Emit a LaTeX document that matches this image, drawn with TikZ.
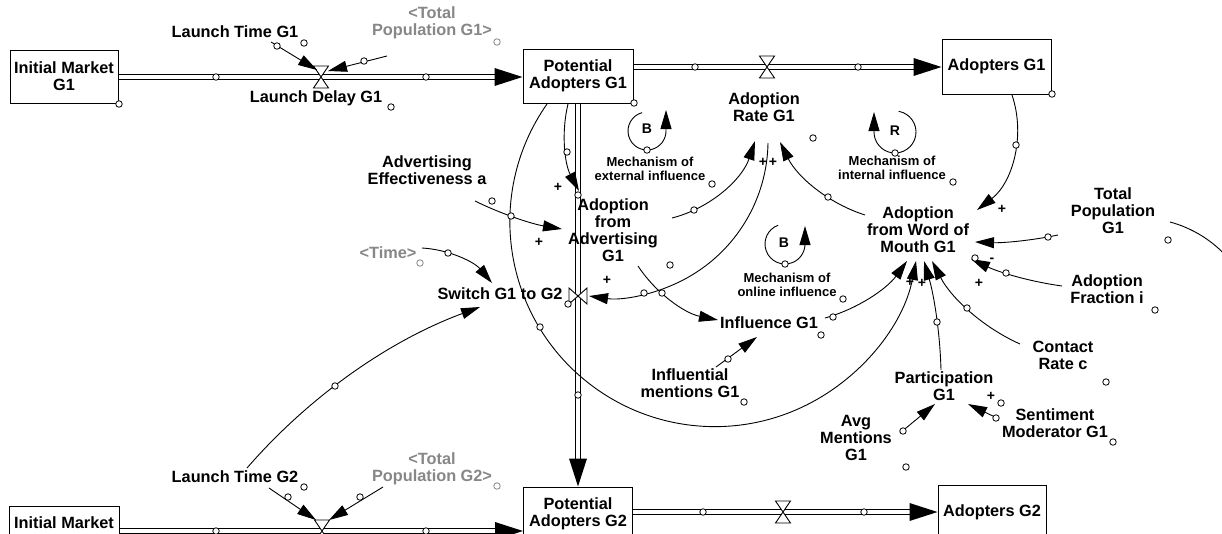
\documentclass[tikz,border=0pt]{standalone}
\usepackage{fontspec}
\setmainfont{Liberation Sans}
\usetikzlibrary{arrows.meta,calc}
\definecolor{vgray}{RGB}{135,135,135}

% Circular arc from #2 through #3 to #4 (named points), drawn with options #1
\newcommand\arcthru[4][]{%
  \path (#2); \pgfgetlastxy{\arcXa}{\arcYa}%
  \path (#3); \pgfgetlastxy{\arcXb}{\arcYb}%
  \path (#4); \pgfgetlastxy{\arcXc}{\arcYc}%
  \pgfmathsetmacro\arcBx{((\arcXb)-(\arcXa))/100}%
  \pgfmathsetmacro\arcBy{((\arcYb)-(\arcYa))/100}%
  \pgfmathsetmacro\arcCx{((\arcXc)-(\arcXa))/100}%
  \pgfmathsetmacro\arcCy{((\arcYc)-(\arcYa))/100}%
  \pgfmathsetmacro\arcD{2*((\arcBx)*(\arcCy)-(\arcBy)*(\arcCx))}%
  \pgfmathsetmacro\arcBB{(\arcBx)*(\arcBx)+(\arcBy)*(\arcBy)}%
  \pgfmathsetmacro\arcCC{(\arcCx)*(\arcCx)+(\arcCy)*(\arcCy)}%
  \pgfmathsetmacro\arcUx{((\arcCy)*(\arcBB)-(\arcBy)*(\arcCC))/(\arcD)}%
  \pgfmathsetmacro\arcUy{((\arcBx)*(\arcCC)-(\arcCx)*(\arcBB))/(\arcD)}%
  \pgfmathsetmacro\arcR{100*veclen(\arcUx,\arcUy)}%
  \pgfmathsetmacro\arcS{atan2(0-(\arcUy),0-(\arcUx))}%
  \pgfmathsetmacro\arcT{atan2((\arcCy)-(\arcUy),(\arcCx)-(\arcUx))}%
  \pgfmathsetmacro\arcE{(\arcD>0) ? ((\arcT<\arcS) ? (\arcT+360) : (\arcT)) : ((\arcT>\arcS) ? (\arcT-360) : (\arcT))}%
  \draw[#1] (#2) arc[start angle=\arcS, end angle=\arcE, radius=\arcR pt];%
}

\tikzset{
  lbl/.style={font=\fontsize{16.3}{17}\selectfont\bfseries, align=center, inner sep=0pt},
  glbl/.style={lbl, text=vgray},
  smalllbl/.style={font=\fontsize{13}{14.5}\selectfont\bfseries, align=center, inner sep=0pt},
  looplbl/.style={font=\fontsize{14}{14}\selectfont\bfseries, inner sep=0pt},
  stock/.style={lbl, draw, line width=1pt, rectangle},
  hdl/.style={circle, draw, fill=white, line width=0.8pt, inner sep=0pt, minimum size=6.5pt},
  ghdl/.style={hdl, draw=vgray},
  link/.style={line width=0.9pt, -{Triangle[length=19pt,width=11pt]}},
  plainlink/.style={line width=0.9pt},
  pipeline/.style={line width=0.9pt},
  valve/.style={draw, fill=white, line width=0.9pt},
  sgn/.style={font=\fontsize{14}{14}\selectfont\bfseries, inner sep=0pt},
}

\begin{document}
\begin{tikzpicture}[x=1pt,y=-1pt]
\useasboundingbox (0,0) rectangle (1222,533);
\fill[white] (0,0) rectangle (1222,533);
\clip (0,0) rectangle (1222,533);

% ---------- stocks ----------
\node[stock, minimum width=108pt, minimum height=53pt] (im1) at (64,76.5) {Initial Market\\G1};
\node[stock, minimum width=110pt, minimum height=54pt] (pa1) at (578,76) {Potential\\Adopters G1};
\node[stock, minimum width=109pt, minimum height=55pt] (ad1) at (996.5,66.5) {Adopters G1};
\node[stock, minimum width=110pt, minimum height=54pt] (im2) at (64,533) {};
\node[lbl] (im2t) at (64,523) {Initial Market};
\node[stock, minimum width=109pt, minimum height=54pt] (pa2) at (578,514) {Potential\\Adopters G2};
\node[stock, minimum width=108pt, minimum height=54pt] (ad2) at (992,512) {Adopters G2};

% ---------- variables ----------
\node[lbl] (lt1) at (235,32) {Launch Time G1};
\node[glbl] (tp1) at (432,23) {<Total\\Population G1>};
\node[lbl] (ld1) at (316,98) {Launch Delay G1};
\node[lbl] (ar1) at (764,107) {Adoption\\Rate G1};
\node[looplbl] (bext) at (647,129) {B};
\node[smalllbl] (mext) at (650,169) {Mechanism of\\external influence};
\node[looplbl] (rint) at (895,131) {R};
\node[smalllbl] (mint) at (892,168) {Mechanism of\\internal influence};
\node[lbl] (ae) at (427,170) {Advertising\\Effectiveness a};
\node[lbl] (afa) at (613,230) {Adoption\\from\\Advertising\\G1};
\node[glbl] (time) at (388,253) {<Time>};
\node[lbl] (sw) at (500,294) {Switch G1 to G2};
\node[lbl] (inf) at (769,323) {Influence G1};
\node[looplbl] (bon) at (784,243) {B};
\node[smalllbl] (mon) at (787,285) {Mechanism of\\online influence};
\node[lbl] (infm) at (690,383) {Influential\\mentions G1};
\node[lbl] (wom) at (918,230) {Adoption\\from Word of\\Mouth G1};
\node[lbl] (tp) at (1113,211) {Total\\Population\\G1};
\node[lbl] (af) at (1107,289) {Adoption\\Fraction i};
\node[lbl] (cr) at (1063,355) {Contact\\Rate c};
\node[lbl] (pt) at (944,386) {Participation\\G1};
\node[lbl] (sm) at (1055,423) {Sentiment\\Moderator G1};
\node[lbl] (am) at (856,438) {Avg\\Mentions\\G1};
\node[lbl] (lt2) at (235,477) {Launch Time G2};
\node[glbl] (tp2) at (432,469) {<Total\\Population G2>};

% ---------- pipes (two parallel rails each) ----------
\coordinate (v1) at (321,77);
\coordinate (v2) at (767,67);
\coordinate (vs) at (578,296);
\coordinate (v3) at (322,531);
\coordinate (v4) at (783,512);

\coordinate (p1s) at (im1.east |- v1); \coordinate (p1e) at (pa1.west |- v1);
\coordinate (p2s) at (pa1.east |- v2); \coordinate (p2e) at (ad1.west |- v2);
\coordinate (p3s) at (pa1.south);      \coordinate (p3e) at (pa2.north);
\coordinate (p4s) at (im2.east |- v3); \coordinate (p4e) at (pa2.west |- v3);
\coordinate (p5s) at (pa2.east |- v4); \coordinate (p5e) at (ad2.west |- v4);

\foreach \a/\b in {p1s/p1e, p2s/p2e, p4s/p4e, p5s/p5e} {
  \draw[pipeline] ($(\a)+(0,-2.2)$) -- ($(\b)+(-26,-2.2)$);
  \draw[pipeline] ($(\a)+(0,2.2)$) -- ($(\b)+(-26,2.2)$);
  \fill ($(\b)+(-28,-9)$) -- (\b) -- ($(\b)+(-28,9)$) -- cycle;
}
\draw[pipeline] ($(p3s)+(-2.5,0)$) -- ($(p3e)+(-2.5,-26)$);
\draw[pipeline] ($(p3s)+(2.5,0)$) -- ($(p3e)+(2.5,-26)$);
\fill ($(p3e)+(-9,-28)$) -- (p3e) -- ($(p3e)+(9,-28)$) -- cycle;

% valves
\foreach \v in {v1,v2,v3,v4}
  \draw[valve] ($(\v)+(-7.5,-11)$) -- ($(\v)+(7.5,-11)$) -- ($(\v)+(-7.5,11)$) -- ($(\v)+(7.5,11)$) -- cycle;
\draw[valve] ($(vs)+(-9,-8)$) -- ($(vs)+(-9,8)$) -- ($(vs)+(9,-8)$) -- ($(vs)+(9,8)$) -- cycle;

% ---------- causal links ----------
\coordinate (a1s) at (271,42);  \coordinate (a1e) at (317,70);
\draw[link] (a1s) -- (a1e);
\coordinate (a2s) at (387,56);  \coordinate (a2e) at (328,71);
\draw[link] (a2s) -- (a2e);

\coordinate (a3s) at (568,104); \coordinate (a3m) at (566,152); \coordinate (a3e) at (579,191);
\arcthru[link]{a3s}{a3m}{a3e}
\coordinate (a4s) at (475,201); \coordinate (a4m) at (511,216); \coordinate (a4e) at (562,229);
\arcthru[link]{a4s}{a4m}{a4e}
\coordinate (a5s) at (422,248); \coordinate (a5m) at (448,253); \coordinate (a5e) at (492,283);
\arcthru[link]{a5s}{a5m}{a5e}
\coordinate (a6s) at (247,468); \coordinate (a6m) at (335,386); \coordinate (a6e) at (480,307);
\arcthru[link]{a6s}{a6m}{a6e}
\coordinate (a7s) at (768,143); \coordinate (a7m) at (740,230); \coordinate (a7e) at (589,296);
\arcthru[link]{a7s}{a7m}{a7e}
\coordinate (a8s) at (672,218); \coordinate (a8m) at (694,210); \coordinate (a8e) at (755,141);
\arcthru[link]{a8s}{a8m}{a8e}
\coordinate (a9s) at (865,215); \coordinate (a9m) at (828,197); \coordinate (a9e) at (780,142);
\arcthru[link]{a9s}{a9m}{a9e}
\coordinate (a10s) at (638,266); \coordinate (a10m) at (662,293); \coordinate (a10e) at (718,320);
\arcthru[link]{a10s}{a10m}{a10e}
\coordinate (a11s) at (825,318); \coordinate (a11m) at (867,299); \coordinate (a11e) at (907,261);
\arcthru[link]{a11s}{a11m}{a11e}
\coordinate (a12s) at (716,367); \coordinate (a12e) at (757,337);
\draw[link] (a12s) -- (a12e);
\coordinate (a13s) at (547,104); \coordinate (a13m) at (539,327); \coordinate (a13e) at (916,261);
\arcthru[link]{a13s}{a13m}{a13e}
\coordinate (a14s) at (941,370); \coordinate (a14m) at (937,322); \coordinate (a14e) at (924,261);
\arcthru[link]{a14s}{a14m}{a14e}
\coordinate (a15s) at (1020,344); \coordinate (a15m) at (967,308); \coordinate (a15e) at (932,261);
\arcthru[link]{a15s}{a15m}{a15e}
\coordinate (a16s) at (1058,235); \coordinate (a16m) at (1017,241); \coordinate (a16e) at (975,242);
\arcthru[link]{a16s}{a16m}{a16e}
\coordinate (a17s) at (1062,286); \coordinate (a17m) at (1006,273); \coordinate (a17e) at (971,259);
\arcthru[link]{a17s}{a17m}{a17e}
\coordinate (a18s) at (1012,95); \coordinate (a18m) at (1016,145); \coordinate (a18e) at (977,210);
\arcthru[link]{a18s}{a18m}{a18e}
\coordinate (a19s) at (1170,222); \coordinate (a19m) at (1197,233); \coordinate (a19e) at (1228,258);
\arcthru[plainlink]{a19s}{a19m}{a19e}
\coordinate (a20s) at (900,433); \coordinate (a20e) at (935,404);
\draw[link] (a20s) -- (a20e);
\coordinate (a21s) at (999,419); \coordinate (a21e) at (968,404);
\draw[link] (a21s) -- (a21e);
\coordinate (a22s) at (269,488); \coordinate (a22e) at (316,520);
\draw[link] (a22s) -- (a22e);
\coordinate (a23s) at (383,487); \coordinate (a23e) at (329,520);
\draw[link] (a23s) -- (a23e);

% ---------- loop markers ----------
\coordinate (lb1) at (647,131);
\draw[link] ($(lb1)+(105:19pt)$) arc[start angle=105, end angle=360, radius=19pt] -- ++(0pt,21pt);
\coordinate (lr1) at (895,132);
\draw[link] ($(lr1)+(80:21pt)$) arc[start angle=80, end angle=-180, radius=21pt] -- ++(0pt,20pt);
\coordinate (lb2) at (785,244);
\draw[link] ($(lb2)+(110:20pt)$) arc[start angle=110, end angle=360, radius=20pt] -- ++(0pt,18pt);

% ---------- handles ----------
\foreach \x/\y [count=\i] in {119/104, 216/77, 426/77, 304/43, 277/46, 364/61, 391/107,
    634/103, 695/67, 858/67, 1052/94, 813/138, 647/150, 712/184, 895/153, 953/182,
    567/152, 578/195, 492/201, 511/216, 448/253, 568/304, 644/293, 662/293, 694/210,
    828/197, 670/265, 785/264, 843/299, 821/335, 833/317, 728/359, 744/402, 540/327,
    578/395, 335/386, 1048/237, 1168/240, 975/258, 1006/273, 1155/310, 937/322,
    967/308, 1106/382, 1001/403, 996/418, 1113/442, 903/431, 906/467, 1016/145,
    304/487, 288/497, 360/497, 216/531, 426/531, 703/512, 864/512}
  \node[hdl] (h\i) at (\x,\y) {};
\node[ghdl] (g1) at (497,42) {};
\node[ghdl] (g2) at (420,263) {};
\node[ghdl] (g3) at (497,486) {};

% ---------- polarities ----------
\node[sgn] (s1) at (558,187) {+};
\node[sgn] (s2) at (539,242) {+};
\node[sgn] (s3) at (607,280) {+};
\node[sgn] (s4) at (763,162) {+};
\node[sgn] (s5) at (773,162) {+};
\node[sgn] (s6) at (1002,209) {+};
\node[sgn] (s7) at (979,283) {+};
\node[sgn] (s8) at (910,282) {+};
\node[sgn] (s9) at (922,283) {+};
\node[sgn] (s10) at (991,396) {+};
\node[sgn] (s11) at (992,260) {-};
\end{tikzpicture}
\end{document}
